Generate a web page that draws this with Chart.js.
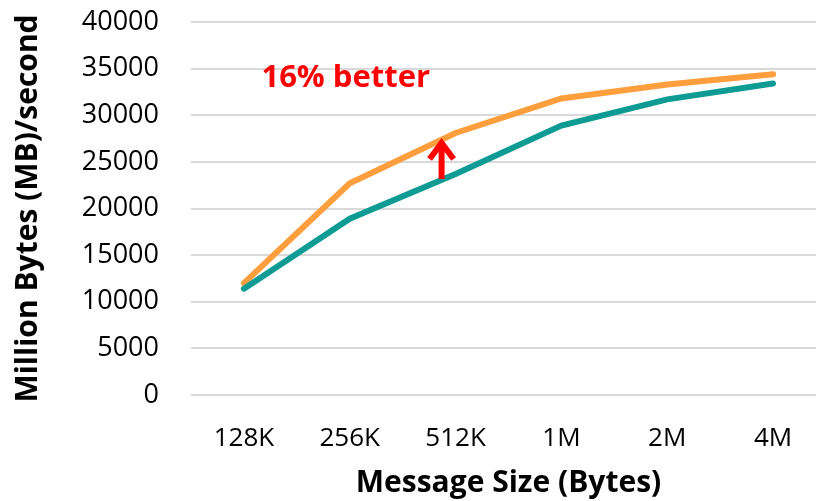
<!DOCTYPE html>
<html>
<head>
<meta charset="utf-8">
<script src="https://cdn.jsdelivr.net/npm/chart.js@4.4.1/dist/chart.umd.min.js"></script>
<style>
  html, body { margin: 0; padding: 0; background: #fff; overflow: hidden; }
  /* the plot area runs a little past the right edge of the picture */
  #wrap { width: 816px; height: 501px; overflow: hidden; }
</style>
</head>
<body>
<div id="wrap"><canvas id="chart" width="826" height="501"></canvas></div>
<script>
const messageSizes = ['128K', '256K', '512K', '1M', '2M', '4M'];
const baseline = [11400, 18900, 23700, 28900, 31700, 33400];
const improved = [12000, 22700, 28100, 31800, 33300, 34400];
const yTicks = { min: 0, max: 40000, step: 5000 };
const noteText = '16% better';
const noteAt = { index: 1, value: 34000 };
const arrowIndex = 2;

const FONT = '"Open Sans", "Liberation Sans", sans-serif';

// red arrow + "16% better" label
const annotate = {
  id: 'annotate',
  afterDatasetsDraw(chart) {
    const { ctx, scales: { x, y } } = chart;
    ctx.save();
    ctx.fillStyle = '#ff0000';
    ctx.font = 'bold 31px ' + FONT;
    ctx.textAlign = 'center';
    ctx.textBaseline = 'middle';
    ctx.fillText(noteText, x.getPixelForValue(noteAt.index) - 4, y.getPixelForValue(noteAt.value));

    const ax = x.getPixelForValue(arrowIndex) - 14;
    const yBottom = y.getPixelForValue(baseline[arrowIndex]) + 5;
    const yTop = y.getPixelForValue(improved[arrowIndex]) + 5;
    ctx.strokeStyle = '#ff0000';
    ctx.lineWidth = 6;
    ctx.lineCap = 'butt';
    ctx.beginPath();
    ctx.moveTo(ax, yBottom);
    ctx.lineTo(ax, yTop + 4);
    ctx.stroke();
    ctx.lineJoin = 'miter';
    ctx.beginPath();
    ctx.moveTo(ax - 12, yTop + 21);
    ctx.lineTo(ax, yTop + 5);
    ctx.lineTo(ax + 12, yTop + 21);
    ctx.stroke();
    ctx.restore();
  }
};

new Chart(document.getElementById('chart').getContext('2d'), {
  type: 'line',
  data: {
    labels: messageSizes,
    datasets: [
      {
        label: 'Baseline',
        data: baseline,
        borderColor: '#0d9b94',
        borderWidth: 6,
        pointRadius: 0,
        borderCapStyle: 'round',
        tension: 0
      },
      {
        label: 'Improved',
        data: improved,
        borderColor: '#ff9e3d',
        borderWidth: 6,
        pointRadius: 0,
        borderCapStyle: 'round',
        tension: 0
      }
    ]
  },
  options: {
    responsive: false,
    animation: false,
    layout: { padding: { top: 22, right: 0, left: 10, bottom: 0 } },
    plugins: { legend: { display: false }, tooltip: { enabled: false } },
    scales: {
      x: {
        offset: true,
        grid: { display: false },
        border: { display: false },
        ticks: { color: '#000', font: { family: FONT, size: 26 }, padding: 20, maxRotation: 0 },
        title: {
          display: true,
          text: 'Message Size (Bytes)',
          color: '#000',
          font: { family: FONT, size: 30, weight: 'bold' },
          padding: { top: 10, bottom: 0 }
        },
        afterFit(scale) { scale.height = 106; }
      },
      y: {
        min: yTicks.min,
        max: yTicks.max,
        grid: { color: '#d9d9d9', lineWidth: 2, drawTicks: false },
        border: { display: false },
        ticks: {
          stepSize: yTicks.step,
          color: '#000',
          font: { family: FONT, size: 27 },
          padding: 32,
          callback: v => String(v)
        },
        title: {
          display: true,
          text: 'Million Bytes (MB)/second',
          color: '#000',
          font: { family: FONT, size: 30, weight: 'bold' },
          padding: { top: 0, bottom: 0 }
        },
        afterFit(scale) {
          scale.width = 181;
          scale.paddingTop = 0;
          scale.paddingBottom = 0;
        }
      }
    }
  },
  plugins: [annotate]
});
</script>
</body>
</html>
